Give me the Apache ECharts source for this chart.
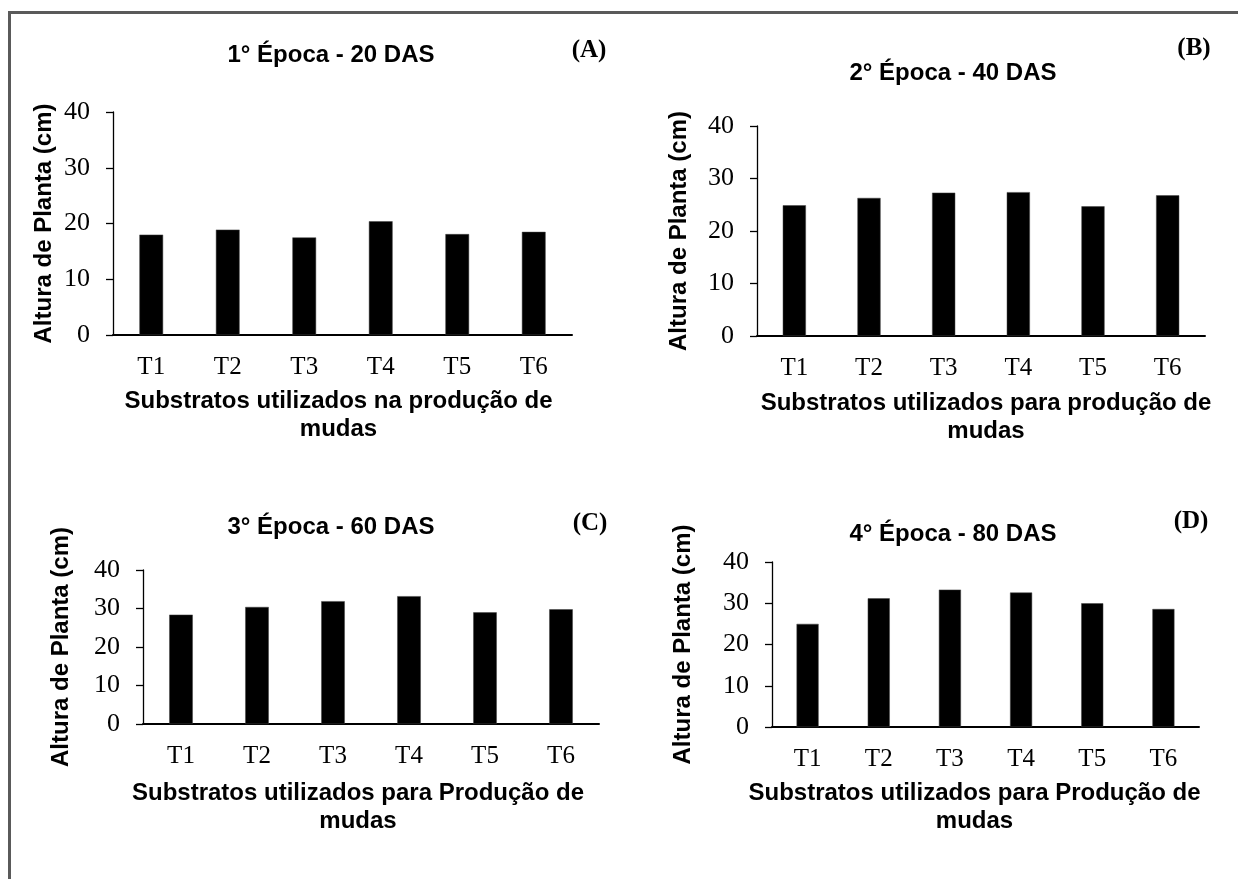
<!DOCTYPE html>
<html>
<head>
<meta charset="utf-8">
<script src="https://cdn.jsdelivr.net/npm/echarts@6/dist/echarts.min.js"></script>
<style>
  html, body { margin: 0; padding: 0; background: #fff; }
  #chart { width: 1238px; height: 879px; }
</style>
</head>
<body>
<div id="chart"></div>
<script>
// Treatments (substrates)
const categories = ['T1', 'T2', 'T3', 'T4', 'T5', 'T6'];

// Plant height (cm) at each sampling time
const epoca1 = [18.0, 18.9, 17.5, 20.4, 18.1, 18.5];
const epoca2 = [24.9, 26.3, 27.3, 27.4, 24.7, 26.8];
const epoca3 = [28.4, 30.4, 31.9, 33.2, 29.0, 29.8];
const epoca4 = [25.0, 31.2, 33.3, 32.6, 30.0, 28.6];

// Panel headings
const panelTitles = ['1° Época - 20 DAS', '2° Época - 40 DAS', '3° Época - 60 DAS', '4° Época - 80 DAS'];
const panelLetters = ['(A)', '(B)', '(C)', '(D)'];
const xNames = [
  'Substratos utilizados na produção de\nmudas',
  'Substratos utilizados para produção de\nmudas',
  'Substratos utilizados para Produção de\nmudas',
  'Substratos utilizados para Produção de\nmudas'
];
const yName = 'Altura de Planta (cm)';
const yMin = 0, yMax = 40, yStep = 10;

const seriesData = [epoca1, epoca2, epoca3, epoca4];

// Panel geometry (pixels)
const grids = [
  { left: 113, top: 112, width: 459, height: 223 },
  { left: 757, top: 126, width: 448, height: 210 },
  { left: 143, top: 570, width: 456, height: 154 },
  { left: 772, top: 562, width: 427, height: 165 }
];
const yNameGap = [57, 66, 70, 77];
const xNameGap = [52, 53, 55, 52];
const xNamePad = [[0, 8, 0, 0], [0, 0, 0, 10], [0, 26, 0, 0], [0, 22, 0, 0]];
const titlePos = [[326, 38], [948, 56], [326, 510], [948, 517]];
const letterPos = [[584, 33], [1189, 31], [585, 506], [1186, 504]];

const SANS = '"Liberation Sans", Arial, sans-serif';
const SERIF = '"Liberation Serif", "Times New Roman", serif';

const option = {
  backgroundColor: '#fff',
  animation: false,
  title: [],
  grid: [],
  xAxis: [],
  yAxis: [],
  series: [],
  graphic: [
    // frame lines along the top and left edges
    { type: 'rect', shape: { x: 8, y: 11, width: 1230, height: 3 }, style: { fill: '#5a5a5a' } },
    { type: 'rect', shape: { x: 8, y: 11, width: 3, height: 868 }, style: { fill: '#5a5a5a' } }
  ]
};

for (let i = 0; i < 4; i++) {
  option.grid.push(Object.assign({ containLabel: false }, grids[i]));
  option.title.push({
    text: panelTitles[i],
    left: titlePos[i][0], top: titlePos[i][1],
    textAlign: 'center',
    textStyle: { fontFamily: SANS, fontWeight: 'bold', fontSize: 24, color: '#000' }
  });
  option.title.push({
    text: panelLetters[i],
    left: letterPos[i][0], top: letterPos[i][1],
    textAlign: 'center',
    textStyle: { fontFamily: SERIF, fontWeight: 'bold', fontSize: 25, color: '#000' }
  });
  option.xAxis.push({
    type: 'category',
    gridIndex: i,
    data: categories,
    name: xNames[i],
    nameLocation: 'middle',
    nameGap: xNameGap[i],
    nameTextStyle: {
      fontFamily: SANS, fontWeight: 'bold', fontSize: 24, color: '#000',
      lineHeight: 28, padding: xNamePad[i]
    },
    axisLine: { lineStyle: { color: '#000', width: 2 } },
    axisTick: { show: false },
    axisLabel: { fontFamily: SERIF, fontSize: 25, color: '#000', margin: 20 },
    splitLine: { show: false }
  });
  option.yAxis.push({
    type: 'value',
    gridIndex: i,
    min: yMin, max: yMax, interval: yStep,
    name: yName,
    nameLocation: 'middle',
    nameRotate: 90,
    nameGap: yNameGap[i],
    nameTextStyle: { fontFamily: SANS, fontWeight: 'bold', fontSize: 24, color: '#000' },
    axisLine: { show: true, lineStyle: { color: '#000', width: 1.3 } },
    axisTick: { show: true, length: 7, lineStyle: { color: '#000', width: 1.3 } },
    axisLabel: { fontFamily: SERIF, fontSize: 26, color: '#000', margin: 23 },
    splitLine: { show: false }
  });
  option.series.push({
    type: 'bar',
    xAxisIndex: i,
    yAxisIndex: i,
    data: seriesData[i],
    barWidth: '31%',
    itemStyle: { color: '#000', borderColor: '#444', borderWidth: 0.5 }
  });
}

const chart = echarts.init(document.getElementById('chart'), null, { renderer: 'canvas' });
chart.setOption(option);
</script>
</body>
</html>
